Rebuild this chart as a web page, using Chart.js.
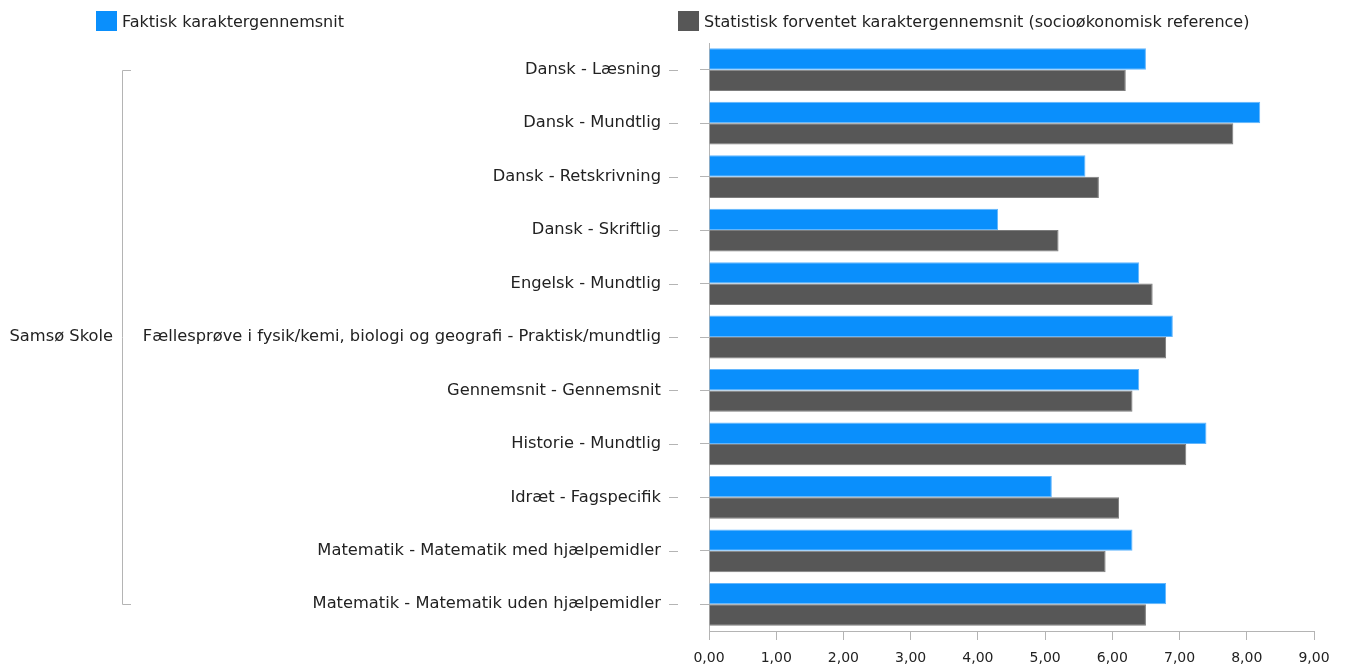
<!DOCTYPE html>
<html>
<head>
<meta charset="utf-8">
<script src="https://cdn.jsdelivr.net/npm/chart.js@4.4.1/dist/chart.umd.min.js"></script>
<style>
    html, body { margin: 0; padding: 0; background: #fff; }
    #wrap { position: relative; width: 1345px; height: 666px; }
    #legend { position: absolute; top: 0; left: 0; width: 1345px; height: 40px; font-family: "DejaVu Sans", Verdana, sans-serif; font-size: 16px; color: #222; }
    .lg-item { position: absolute; top: 11px; height: 20px; display: flex; align-items: center; }
    .lg-box { width: 21px; height: 20px; margin-right: 5px; }
</style>
</head>
<body>
<div id="wrap">
    <canvas id="chart" width="1345" height="666"></canvas>
    <div id="legend"></div>
</div>
<script>
// 카테고리 / 시리즈 데이터
const categories = [
    'Dansk - Læsning',
    'Dansk - Mundtlig',
    'Dansk - Retskrivning',
    'Dansk - Skriftlig',
    'Engelsk - Mundtlig',
    'Fællesprøve i fysik/kemi, biologi og geografi - Praktisk/mundtlig',
    'Gennemsnit - Gennemsnit',
    'Historie - Mundtlig',
    'Idræt - Fagspecifik',
    'Matematik - Matematik med hjælpemidler',
    'Matematik - Matematik uden hjælpemidler'
];
const seriesNames = [
    'Faktisk karaktergennemsnit',
    'Statistisk forventet karaktergennemsnit (socioøkonomisk reference)'
];
const faktisk = [6.5, 8.2, 5.6, 4.3, 6.4, 6.9, 6.4, 7.4, 5.1, 6.3, 6.8];
const forventet = [6.2, 7.8, 5.8, 5.2, 6.6, 6.8, 6.3, 7.1, 6.1, 5.9, 6.5];
const groupLabel = 'Samsø Skole';
const xMin = 0;
const xMax = 9;

const FONT = '"DejaVu Sans", Verdana, sans-serif';
const AXIS_COLOR = '#b4b4b4';
const TEXT_COLOR = '#222';

// 그룹 괄호 + 라벨 옆 짧은 선
const groupBracket = {
    id: 'groupBracket',
    afterDraw(chart) {
        const ctx = chart.ctx;
        const y = chart.scales.y;
        const first = y.getPixelForTick(0);
        const last = y.getPixelForTick(categories.length - 1);
        ctx.save();
        ctx.strokeStyle = AXIS_COLOR;
        ctx.lineWidth = 1;
        ctx.beginPath();
        ctx.moveTo(131, Math.round(first) + 0.5);
        ctx.lineTo(122.5, Math.round(first) + 0.5);
        ctx.lineTo(122.5, Math.round(last) + 0.5);
        ctx.lineTo(131, Math.round(last) + 0.5);
        ctx.stroke();
        // 라벨 뒤 대시
        categories.forEach((c, i) => {
            const py = Math.round(y.getPixelForTick(i)) + 0.5;
            ctx.beginPath();
            ctx.moveTo(669, py);
            ctx.lineTo(678, py);
            ctx.stroke();
        });
        ctx.fillStyle = TEXT_COLOR;
        ctx.font = '16.3px ' + FONT;
        ctx.textAlign = 'right';
        ctx.textBaseline = 'middle';
        ctx.fillText(groupLabel, 113, (first + last) / 2);
        ctx.restore();
    }
};

const ctx = document.getElementById('chart').getContext('2d');
const chart = new Chart(ctx, {
    type: 'bar',
    data: {
        labels: categories,
        datasets: [
            {
                label: seriesNames[0],
                data: faktisk,
                backgroundColor: '#0a8ffc',
                borderColor: '#63b6fd',
                borderWidth: 1
            },
            {
                label: seriesNames[1],
                data: forventet,
                backgroundColor: '#575757',
                borderColor: '#7d7d7d',
                borderWidth: 1
            }
        ]
    },
    options: {
        indexAxis: 'y',
        responsive: false,
        animation: false,
        categoryPercentage: 0.8,
        barPercentage: 1.0,
        layout: { padding: { top: 43, right: 31, bottom: 0, left: 0 } },
        plugins: {
            legend: { display: false },
            tooltip: { enabled: false }
        },
        scales: {
            x: {
                min: xMin,
                max: xMax,
                ticks: {
                    stepSize: 1,
                    color: TEXT_COLOR,
                    font: { family: FONT, size: 14 },
                    padding: 10,
                    maxRotation: 0,
                    callback: v => v.toFixed(2).replace('.', ',')
                },
                grid: { drawOnChartArea: false, color: AXIS_COLOR, tickLength: 9 },
                border: { color: AXIS_COLOR },
                afterFit: s => { s.height = 35; }
            },
            y: {
                ticks: {
                    color: TEXT_COLOR,
                    font: { family: FONT, size: 16.3 },
                    padding: 39,
                    autoSkip: false
                },
                grid: { drawOnChartArea: false, offset: false, color: AXIS_COLOR, tickLength: 9 },
                border: { color: AXIS_COLOR },
                afterFit: s => {
                    s.width = 709;
                    // 라벨 패딩이 차트 영역 위/아래를 밀지 않도록
                    s.paddingTop = 0;
                    s.paddingBottom = 0;
                }
            }
        }
    },
    plugins: [groupBracket]
});

// HTML 범례
const legendEl = document.getElementById('legend');
const legendLeft = [96, 678];
chart.data.datasets.forEach((ds, i) => {
    const item = document.createElement('div');
    item.className = 'lg-item';
    item.style.left = legendLeft[i] + 'px';
    const box = document.createElement('span');
    box.className = 'lg-box';
    box.style.background = ds.backgroundColor;
    const txt = document.createElement('span');
    txt.textContent = ds.label;
    item.appendChild(box);
    item.appendChild(txt);
    legendEl.appendChild(item);
});
</script>
</body>
</html>
